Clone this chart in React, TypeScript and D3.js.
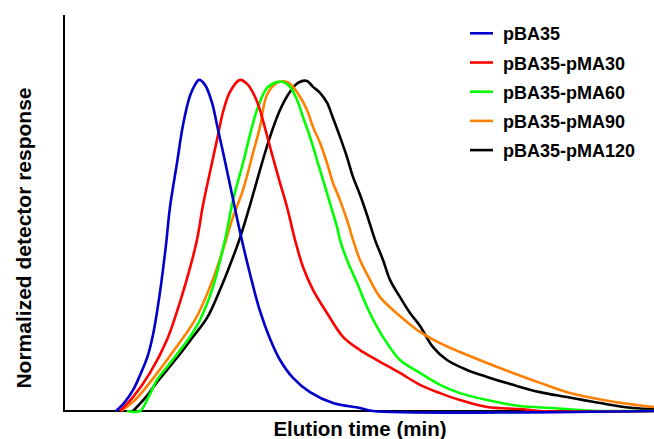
import React from "react";
import * as d3 from "d3";

// Series names (legend order)
const seriesNames = ["pBA35", "pBA35-pMA30", "pBA35-pMA60", "pBA35-pMA90", "pBA35-pMA120"];
const seriesColors = ["#0000CC", "#FF0000", "#00FF00", "#FF8000", "#000000"];

// Elution time (arbitrary min units) and normalized response
const tBA35 = [5.2, 6.0, 6.9, 7.7, 8.4, 8.9, 9.3, 9.7, 10.2, 10.6, 11.3, 11.9, 12.6, 13.1, 13.5, 14.1, 14.8, 15.3, 15.9, 16.6, 17.6, 18.6, 19.6, 20.6, 21.6, 22.9, 24.6, 26.9, 29.6, 30.9, 59];
const rBA35 = [0, 0.024, 0.063, 0.115, 0.169, 0.23, 0.299, 0.381, 0.502, 0.616, 0.749, 0.864, 0.952, 0.985, 1.0, 0.985, 0.931, 0.864, 0.782, 0.683, 0.541, 0.414, 0.302, 0.218, 0.154, 0.1, 0.057, 0.024, 0.009, 0, 0];

const tMA30 = [5.6, 6.9, 8.6, 10.3, 11.6, 12.6, 13.3, 13.9, 14.6, 15.3, 15.9, 16.6, 17.6, 18.4, 19.1, 19.6, 20.6, 21.6, 22.3, 23.1, 23.9, 24.9, 26.3, 27.9, 29.6, 31.3, 33.6, 35.6, 37.6, 39.6, 42.3, 45.6, 47.6, 59];
const rMA30 = [0, 0.042, 0.115, 0.215, 0.329, 0.432, 0.517, 0.622, 0.722, 0.819, 0.903, 0.964, 1.0, 0.985, 0.949, 0.909, 0.798, 0.689, 0.616, 0.517, 0.435, 0.366, 0.296, 0.224, 0.184, 0.154, 0.115, 0.079, 0.054, 0.033, 0.012, 0.006, 0, 0];

const tMA60 = [6.3, 7.6, 8.4, 9.3, 10.3, 11.4, 12.6, 13.6, 14.9, 16.1, 16.9, 17.9, 18.8, 19.4, 20.3, 21.3, 21.9, 22.6, 23.3, 23.9, 24.6, 25.3, 25.9, 26.6, 27.3, 27.6, 28.3, 29.3, 30.3, 31.3, 32.3, 33.6, 35.6, 37.6, 39.6, 42.3, 45.6, 48.9, 51.6, 53.6, 59];
const rMA60 = [0, 0, 0.039, 0.094, 0.133, 0.175, 0.224, 0.275, 0.375, 0.517, 0.637, 0.749, 0.858, 0.918, 0.976, 0.994, 0.994, 0.979, 0.94, 0.888, 0.828, 0.758, 0.698, 0.628, 0.556, 0.517, 0.456, 0.387, 0.314, 0.254, 0.205, 0.154, 0.115, 0.079, 0.054, 0.033, 0.015, 0.009, 0.003, 0, 0];

const tMA90 = [5.7, 7.1, 8.8, 10.8, 13.1, 14.6, 15.8, 16.8, 17.9, 18.9, 19.6, 20.3, 21.3, 22.3, 22.9, 23.6, 24.3, 24.9, 25.6, 26.3, 26.9, 27.6, 28.3, 28.9, 29.6, 30.6, 31.6, 32.9, 34.3, 35.6, 37.6, 39.6, 42.3, 44.9, 47.6, 50.6, 53.9, 57.3, 59];
const rMA90 = [0, 0.033, 0.094, 0.175, 0.275, 0.375, 0.477, 0.577, 0.668, 0.779, 0.858, 0.955, 0.991, 0.994, 0.979, 0.949, 0.909, 0.858, 0.81, 0.749, 0.689, 0.637, 0.577, 0.517, 0.456, 0.396, 0.344, 0.305, 0.269, 0.239, 0.205, 0.178, 0.145, 0.115, 0.085, 0.054, 0.033, 0.018, 0.012];

const tMA120 = [6.9, 8.1, 9.1, 10.3, 11.6, 12.9, 14.3, 15.6, 16.6, 17.6, 18.6, 19.6, 20.6, 21.6, 22.6, 23.4, 24.3, 24.9, 25.6, 26.3, 26.9, 27.6, 28.3, 28.9, 29.6, 30.3, 31.1, 31.9, 32.6, 33.6, 34.6, 35.6, 36.9, 38.3, 40.3, 42.3, 44.9, 47.6, 50.3, 53.6, 56.9, 59];
const rMA120 = [0, 0.039, 0.079, 0.124, 0.172, 0.224, 0.281, 0.366, 0.441, 0.523, 0.622, 0.728, 0.828, 0.909, 0.964, 0.991, 0.997, 0.979, 0.961, 0.931, 0.885, 0.828, 0.767, 0.707, 0.653, 0.592, 0.517, 0.456, 0.396, 0.344, 0.296, 0.257, 0.193, 0.154, 0.124, 0.103, 0.079, 0.057, 0.042, 0.024, 0.009, 0.006];

const seriesT = [tBA35, tMA30, tMA60, tMA90, tMA120];
const seriesR = [rBA35, rMA30, rMA60, rMA90, rMA120];

const xLabel = "Elution time (min)";
const yLabel = "Normalized detector response";

const W = 654;
const H = 439;
const left = 64;
const right = 654;
const top = 15;
const bottom = 411;

export default function App() {
  const x = d3.scaleLinear().domain([0, 59]).range([left, right]);
  const y = d3.scaleLinear().domain([0, 1.196]).range([bottom, top]);
  const line = d3
    .line<[number, number]>()
    .x((d) => x(d[0]))
    .y((d) => Math.min(bottom, y(d[1])))
    .curve(d3.curveCatmullRom.alpha(0.5));

  const drawOrder = [4, 3, 2, 1, 0];
  const font = "'Liberation Sans', Arial, sans-serif";

  return (
    <svg
      width={W}
      height={H}
      style={{ position: "absolute", left: 0, top: 0, background: "#fff" }}
    >
      <rect x={0} y={0} width={W} height={H} fill="#fff" />
      <line x1={left} y1={top} x2={left} y2={bottom + 1} stroke="#000" strokeWidth={2} />
      <line x1={left} y1={bottom} x2={right} y2={bottom} stroke="#000" strokeWidth={2} />
      {drawOrder.map((i) => {
        const pts: [number, number][] = seriesT[i].map((t, k) => [t, seriesR[i][k]]);
        return (
          <path
            key={seriesNames[i]}
            d={line(pts) || ""}
            fill="none"
            stroke={seriesColors[i]}
            strokeWidth={2.6}
            strokeLinejoin="round"
          />
        );
      })}
      {seriesNames.map((name, i) => {
        const ly = 33.3 + i * 29.2;
        return (
          <g key={name}>
            <line x1={470} x2={493} y1={ly} y2={ly} stroke={seriesColors[i]} strokeWidth={2.6} />
            <text x={503} y={ly + 7} fontFamily={font} fontWeight="bold" fontSize={18} fill="#000">
              {name}
            </text>
          </g>
        );
      })}
      <text
        x={360}
        y={436}
        textAnchor="middle"
        fontFamily={font}
        fontWeight="bold"
        fontSize={20.5}
        fill="#000"
      >
        {xLabel}
      </text>
      <text
        transform={`translate(30.5, 238) rotate(-90)`}
        textAnchor="middle"
        fontFamily={font}
        fontWeight="bold"
        fontSize={21}
        fill="#000"
      >
        {yLabel}
      </text>
    </svg>
  );
}
